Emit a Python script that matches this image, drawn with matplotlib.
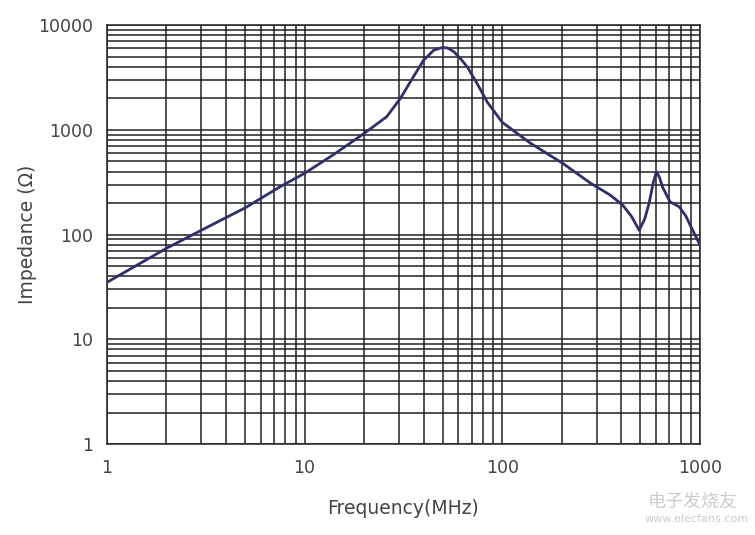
import numpy as np
import matplotlib.pyplot as plt
from matplotlib.ticker import LogLocator, FixedLocator, NullFormatter

# impedance curve (MHz, ohm)
freq = [1, 2, 3, 5, 7.5, 10, 14, 20, 26, 30.5, 35.5, 40, 45, 49.7, 53,
        57, 62, 66.5, 74.7, 84, 100, 139, 202, 281, 350, 406, 450, 493,
        525, 553, 580, 603, 625, 646, 706, 787, 850, 901, 993]
imp = [35, 74, 110, 180, 286, 385, 580, 925, 1333, 1995, 3210, 4630, 5760,
       6120, 6050, 5560, 4700, 3990, 2760, 1840, 1180, 745, 480, 308, 240,
       192, 150, 110, 140, 198, 310, 398, 350, 286, 206, 184, 150, 119, 82]

x_ticks = [1, 10, 100, 1000]
y_ticks = [1, 10, 100, 1000, 10000]

fig = plt.figure(figsize=(7.55, 5.35), dpi=100)
ax = fig.add_axes([0.1417, 0.170, 0.7853, 0.783])

ax.plot(freq, imp, color='#2e2f6b', lw=2.0, zorder=3)

ax.set_xscale('log')
ax.set_yscale('log')
ax.set_xlim(1, 1000)
ax.set_ylim(1, 10000)

ax.xaxis.set_major_locator(FixedLocator(x_ticks))
ax.yaxis.set_major_locator(FixedLocator(y_ticks))
ax.xaxis.set_minor_locator(LogLocator(base=10, subs=np.arange(2, 10)))
ax.yaxis.set_minor_locator(LogLocator(base=10, subs=np.arange(2, 10)))
ax.xaxis.set_minor_formatter(NullFormatter())
ax.yaxis.set_minor_formatter(NullFormatter())
ax.set_xticklabels([str(t) for t in x_ticks])
ax.set_yticklabels([str(t) for t in y_ticks])

ax.grid(True, which='both', color='#222222', lw=1.1)
ax.tick_params(which='both', length=0, labelsize=12.5, labelcolor='#444444')
ax.tick_params(axis='x', pad=11)
ax.tick_params(axis='y', pad=10)
for s in ax.spines.values():
    s.set_color('#222222')
    s.set_linewidth(1.1)

ax.set_xlabel('Frequency(MHz)', fontsize=13.5, color='#444444')
ax.set_ylabel('Impedance (Ω)', fontsize=13.5, color='#444444')
ax.xaxis.set_label_coords(0.5, -0.13)
ax.yaxis.set_label_coords(-0.118, 0.5)

# watermark
fig.text(0.917, 0.062, '电子发烧友', fontsize=13, color='#cccccc',
         family=['Noto Sans CJK SC', 'DejaVu Sans'], ha='center', va='center',
         style='italic')
fig.text(0.923, 0.030, 'www.elecfans.com', fontsize=8, color='#cccccc',
         ha='center', va='center')

fig.savefig('out.png', dpi=100)
